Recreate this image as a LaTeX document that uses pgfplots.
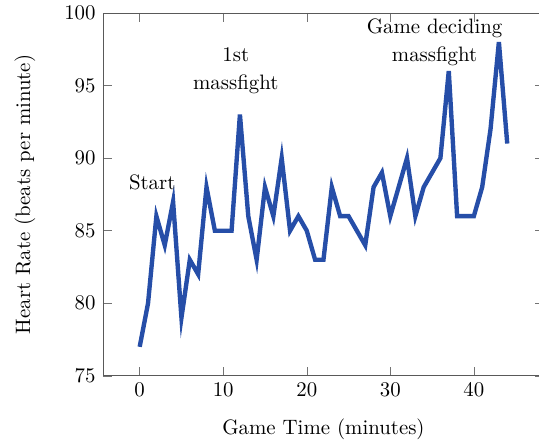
\documentclass[border=0pt]{standalone}
\usepackage{pgfplots}
\pgfplotsset{compat=1.18}
\usetikzlibrary{calc}
\definecolor{hrblue}{RGB}{38,78,168}
\begin{document}
\begin{tikzpicture}
\begin{axis}[
  scale only axis,
  width=211.7pt, height=174.2pt,
  xmin=-4.4, xmax=48.4,
  ymin=75, ymax=100,
  xtick={0,10,20,30,40},
  ytick={75,80,85,90,95,100},
  axis line style={black!65},
  tick style={black!55},
  xlabel={Game Time (minutes)},
  ylabel={Heart Rate (beats per minute)},
  xlabel style={yshift=-4pt},
  ylabel style={yshift=7pt},
  clip=false,
]
\addplot[hrblue, line width=2.1pt, line join=miter] coordinates {
(0,77) (1,80) (2,86) (3,84) (4,87) (5,79) (6,83) (7,82) (8,88) (9,85)
(10,85) (11,85) (12,93) (13,86) (14,83) (15,88) (16,86) (17,90) (18,85) (19,86)
(20,85) (21,83) (22,83) (23,88) (24,86) (25,86) (26,85) (27,84) (28,88) (29,89)
(30,86) (31,88) (32,90) (33,86) (34,88) (35,89) (36,90) (37,96) (38,86) (39,86)
(40,86) (41,88) (42,92) (43,98) (44,91)
};
\node[align=center] at (axis cs:1.5,88.3) {Start};
\node[align=center] at (axis cs:11.5,96.0) {1st\\[1.5pt]massfight};
\node[align=center] at (axis cs:35.3,98.0) {Game deciding\\[1.5pt]massfight};
\end{axis}
\pgfresetboundingbox
\path[use as bounding box] ($(current axis.south west)+(-49.4pt,-31.7pt)$) rectangle ($(current axis.north east)+(-2.4pt,6.2pt)$);
\end{tikzpicture}
\end{document}
